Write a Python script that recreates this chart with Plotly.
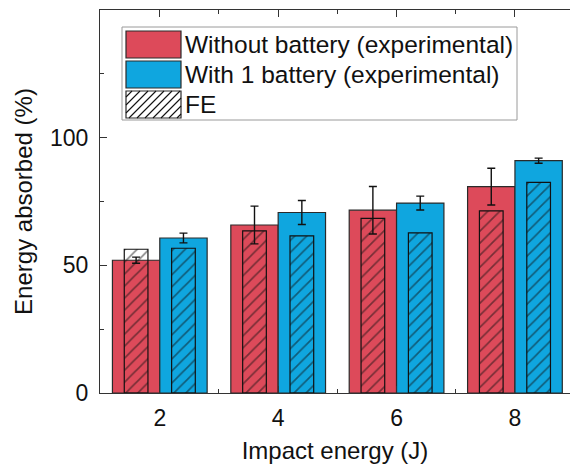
import plotly.graph_objects as go

# ---- data ----
impact_energy = [2, 4, 6, 8]
without_battery = [52.0, 65.8, 71.6, 80.8]
without_battery_err = [1.2, 7.4, 9.3, 7.2]
with_battery = [60.7, 70.7, 74.4, 91.0]
with_battery_err = [1.9, 4.7, 2.7, 1.0]
fe_without = [56.3, 63.5, 68.4, 71.3]
fe_with = [56.7, 61.5, 62.7, 82.5]

legend_labels = ["Without battery (experimental)", "With 1 battery (experimental)", "FE"]

RED = "#DD4A5A"
BLUE = "#0FA6DF"
EDGE = "#2a2a2a"
FONT = "Liberation Sans, Arial, sans-serif"

W, H = 570, 467
ML, MR, MT, MB = 100, 0, 10, 74
PW, PH = W - ML - MR, H - MT - MB

fig = go.Figure()

fig.add_trace(go.Bar(
    x=impact_energy, y=without_battery, width=0.8, offset=-0.8,
    marker=dict(color=RED, line=dict(color=EDGE, width=1.2)),
    error_y=dict(type="data", array=without_battery_err, color="#111", thickness=1.4, width=4),
    showlegend=False, name=legend_labels[0]))
fig.add_trace(go.Bar(
    x=impact_energy, y=with_battery, width=0.8, offset=0.0,
    marker=dict(color=BLUE, line=dict(color=EDGE, width=1.2)),
    error_y=dict(type="data", array=with_battery_err, color="#111", thickness=1.4, width=4),
    showlegend=False, name=legend_labels[1]))
for vals, off in ((fe_without, -0.6), (fe_with, 0.2)):
    fig.add_trace(go.Bar(
        x=impact_energy, y=vals, width=0.4, offset=off,
        marker=dict(color="rgba(0,0,0,0)", line=dict(color="#111", width=1.2),
                    pattern=dict(shape="/", fgcolor="#111", size=8.5, solidity=0.2, fillmode="overlay")),
        showlegend=False, name=legend_labels[2]))

# ---- manual legend (paper coordinates from pixel positions) ----
def px_x(p):
    return (p - ML) / PW

def px_y(p):
    return 1 - (p - MT) / PH

shapes = []
shapes.append(dict(type="rect", xref="paper", yref="paper",
                   x0=px_x(122), x1=px_x(517), y0=px_y(120), y1=px_y(27),
                   line=dict(color="#9a9a9a", width=1), fillcolor="white", layer="above"))
sw_x0, sw_x1 = 126, 181
rows = [(31, 58, RED), (61, 88, BLUE), (91, 118, None)]
for (ya, yb, col) in rows:
    shapes.append(dict(type="rect", xref="paper", yref="paper",
                       x0=px_x(sw_x0), x1=px_x(sw_x1), y0=px_y(yb), y1=px_y(ya),
                       line=dict(color=EDGE, width=1.2),
                       fillcolor=col if col else "white", layer="above"))
# hatch lines for FE swatch ("/" lines: x + y = c in pixel space, clipped)
ya, yb = rows[2][0], rows[2][1]
c = sw_x0 + ya + 6
while c < sw_x1 + yb:
    pts = []
    x = c - yb
    if sw_x0 <= x <= sw_x1:
        pts.append((x, yb))
    else:
        pts.append((sw_x0, c - sw_x0))
    x = c - ya
    if sw_x0 <= x <= sw_x1:
        pts.append((x, ya))
    else:
        pts.append((sw_x1, c - sw_x1))
    shapes.append(dict(type="line", xref="paper", yref="paper",
                       x0=px_x(pts[0][0]), y0=px_y(pts[0][1]),
                       x1=px_x(pts[1][0]), y1=px_y(pts[1][1]),
                       line=dict(color="#111", width=1.1), layer="above"))
    c += 8

annotations = []
for (ya_, yb_, _), label in zip(rows, legend_labels):
    annotations.append(dict(xref="paper", yref="paper", x=px_x(183), y=px_y((ya_ + yb_) / 2),
                            text=label, showarrow=False, xanchor="left", yanchor="middle",
                            font=dict(family=FONT, size=24.5, color="#111")))

fig.update_layout(
    width=W, height=H,
    margin=dict(l=ML, r=MR, t=MT, b=MB),
    paper_bgcolor="white", plot_bgcolor="white",
    barmode="overlay",
    font=dict(family=FONT, color="#111"),
    shapes=shapes, annotations=annotations,
    showlegend=False,
    xaxis=dict(range=[0.99, 8.93], tickvals=[2, 4, 6, 8], ticks="inside", ticklen=7, tickwidth=1.2,
               tickcolor="#333", showline=True, linecolor="#333", linewidth=1.2, mirror="ticks",
               showgrid=False, zeroline=False,
               tickfont=dict(size=23, family=FONT, color="#111"),
               minor=dict(tickvals=[1, 3, 5, 7], ticks="inside", ticklen=4, tickcolor="#333"),
               title=dict(text="Impact energy (J)", font=dict(size=24, family=FONT, color="#111"), standoff=12),
               ticklabelstandoff=4),
    yaxis=dict(range=[0, 150], tickvals=[0, 50, 100], ticks="inside", ticklen=7, tickwidth=1.2,
               tickcolor="#333", showline=True, linecolor="#333", linewidth=1.2, mirror=False,
               showgrid=False, zeroline=False,
               tickfont=dict(size=23, family=FONT, color="#111"),
               minor=dict(tickvals=[25, 75, 125], ticks="inside", ticklen=4, tickcolor="#333"),
               title=dict(text="Energy absorbed (%)", font=dict(size=24, family=FONT, color="#111"), standoff=10),
               ticklabelstandoff=6),
    yaxis2=dict(range=[0, 150], overlaying="y", side="right", anchor="x", tickvals=[50, 100, 150],
                ticks="inside", ticklen=7, tickwidth=1.2, tickcolor="#333", showline=False,
                showticklabels=False, showgrid=False, zeroline=False,
                minor=dict(tickvals=[25, 75, 125], ticks="inside", ticklen=4, tickcolor="#333")),
)

fig.write_html("out.html")
